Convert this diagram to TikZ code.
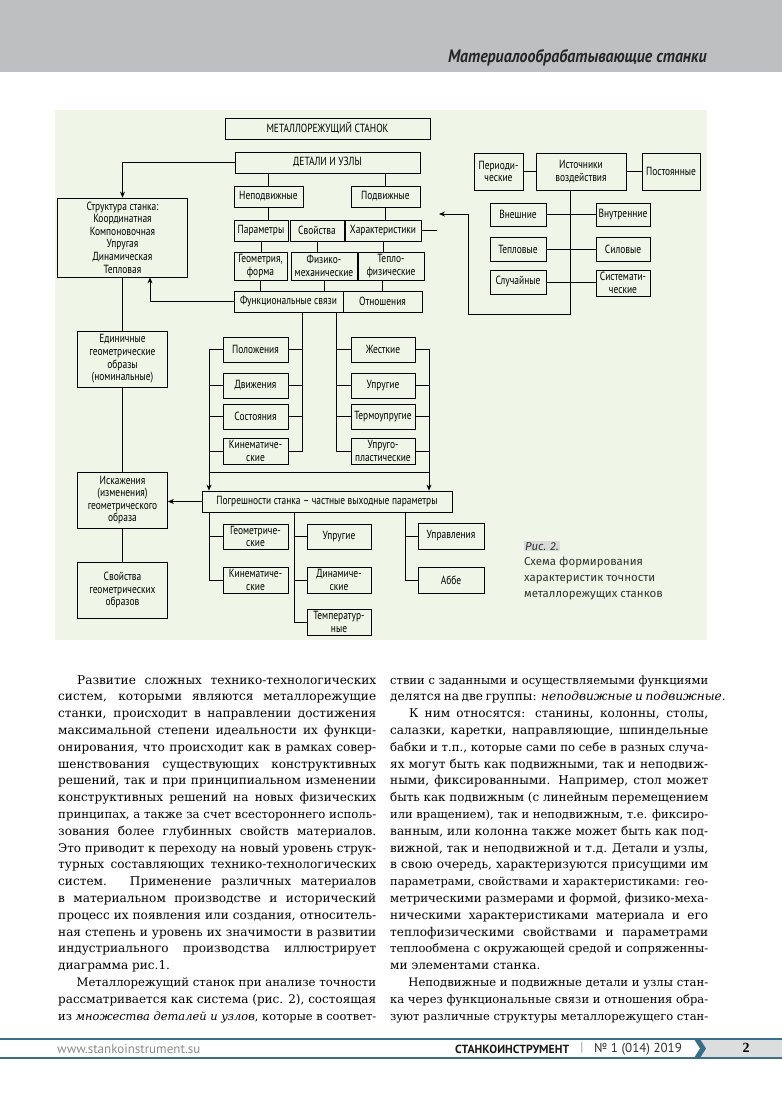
\documentclass[tikz,border=0pt]{standalone}
\usepackage{fontspec}
\usepackage{graphicx}
\setmainfont{DejaVu Serif}
\newfontfamily\diagfont[FakeStretch=0.8]{PT Sans}
\newfontfamily\headfont[FakeStretch=0.88]{PT Sans}
\newfontfamily\footfont{PT Sans}
\newfontfamily\capfont{Fira Sans}
\newfontfamily\numfont{Liberation Serif}
\usetikzlibrary{arrows.meta}
\definecolor{bandgrey}{HTML}{BEBFC1}
\definecolor{figbg}{HTML}{EFF6E7}
\definecolor{footline}{HTML}{3A6E85}
\definecolor{footgrey}{HTML}{DCDDDF}
\definecolor{capgrey}{HTML}{DADADA}
\definecolor{inkgrey}{HTML}{333333}
\newlength\colw
\setlength\colw{318pt}
\newcommand\jl[1]{\setbox0=\hbox{#1}%
  \ifdim\wd0>\colw\hbox{\resizebox{\colw}{!}{\box0}}\else\hbox to\colw{#1}\fi}
\newcommand\jlast[1]{\hbox to\colw{#1\hfil}}
\newcommand\ind{\hskip19pt}

\begin{document}
\begin{tikzpicture}[x=1pt,y=-1pt,>={Stealth[length=6pt,width=5pt]},
  box/.style={draw,line width=0.8pt,inner sep=0.5pt,align=center,
    font=\diagfont\fontsize{11.8}{12.6}\selectfont},
  link/.style={line width=0.8pt},
  bodytext/.style={anchor=base west,inner sep=0pt,text=black,
    font=\fontsize{12.1}{16.8}\selectfont}]
\useasboundingbox (0,0) rectangle (782,1096);
\fill[white] (0,0) rectangle (782,1096);
\fill[bandgrey] (0,0) rectangle (782,72);
\node[anchor=base east,inner sep=0pt,text=black!85,font=\headfont\bfseries\itshape\fontsize{18}{20}\selectfont] (runhead) at (707,62) {Материалообрабатывающие станки};

% figure
\fill[figbg] (55,110) rectangle (707,640);
\node[box,minimum width=205pt,minimum height=21pt] (machine) at (327.5,128.5) {МЕТАЛЛОРЕЖУЩИЙ СТАНОК};
\node[box,minimum width=185pt,minimum height=21pt] (parts) at (327.5,162.5) {ДЕТАЛИ И УЗЛЫ};
\node[box,minimum width=69pt,minimum height=21pt] (fixed) at (268.5,196.5) {Неподвижные};
\node[box,minimum width=69pt,minimum height=21pt] (moving) at (385.5,196.5) {Подвижные};
\node[box,minimum width=54pt,minimum height=21pt] (params) at (261,230.5) {Параметры};
\node[box,minimum width=54pt,minimum height=21pt] (props) at (317,230.5) {Свойства};
\node[box,minimum width=76pt,minimum height=21pt] (chars) at (383,230.5) {Характеристики};
\node[box,minimum width=53pt,minimum height=28pt] (geomform) at (260.5,266) {Геометрия,\\форма};
\node[box,minimum width=66pt,minimum height=28pt] (physmech) at (324,266) {Физико-\\механические};
\node[box,minimum width=66pt,minimum height=28pt] (thermphys) at (391,266) {Тепло-\\физические};
\node[box,minimum width=109pt,minimum height=21pt] (funclinks) at (288.5,301.5) {Функциональные связи};
\node[box,minimum width=79pt,minimum height=21pt] (relations) at (382.5,301.5) {Отношения};
\node[box,minimum width=130pt,minimum height=79pt] (structure) at (122.5,237.5) {Структура станка:\\Координатная\\Компоновочная\\Упругая\\Динамическая\\Тепловая};

\node[box,minimum width=49pt,minimum height=37pt] (periodic) at (498.5,171.5) {Периоди-\\ческие};
\node[box,minimum width=90pt,minimum height=37pt] (sources) at (581,171.5) {Источники\\воздействия};
\node[box,minimum width=58pt,minimum height=37pt] (constant) at (671,171.5) {Постоянные};
\node[box,minimum width=56pt,minimum height=23pt] (external) at (518,214.5) {Внешние};
\node[box,minimum width=54pt,minimum height=23pt] (internal) at (623,214.5) {Внутренние};
\node[box,minimum width=56pt,minimum height=24pt] (thermal) at (518,249) {Тепловые};
\node[box,minimum width=54pt,minimum height=24pt] (force) at (623,249) {Силовые};
\node[box,minimum width=56pt,minimum height=24pt] (random) at (518,282) {Случайные};
\node[box,minimum width=54pt,minimum height=26pt] (systematic) at (623,283) {Системати-\\ческие};

\node[box,minimum width=90pt,minimum height=56pt] (unitimg) at (122.5,359) {Единичные\\геометрические\\образы\\(номинальные)};
\node[box,minimum width=65pt,minimum height=25pt] (position) at (255.5,349.5) {Положения};
\node[box,minimum width=65pt,minimum height=25pt] (motion) at (255.5,385.5) {Движения};
\node[box,minimum width=65pt,minimum height=25pt] (state) at (255.5,416.5) {Состояния};
\node[box,minimum width=65pt,minimum height=26pt] (kinem) at (255.5,451) {Кинематиче-\\ские};
\node[box,minimum width=64pt,minimum height=25pt] (rigid) at (383,349.5) {Жесткие};
\node[box,minimum width=64pt,minimum height=25pt] (elastic) at (383,385.5) {Упругие};
\node[box,minimum width=64pt,minimum height=25pt] (thermoel) at (383,416.5) {Термоупругие};
\node[box,minimum width=64pt,minimum height=26pt] (elplast) at (383,451) {Упруго-\\пластические};

\node[box,minimum width=90pt,minimum height=56pt] (distort) at (122.5,500) {Искажения\\(изменения)\\геометрического\\образа};
\node[box,minimum width=250pt,minimum height=21pt] (errors) at (327,501.5) {Погрешности станка – частные выходные параметры};
\node[box,minimum width=90pt,minimum height=56pt] (imgprops) at (122.5,590) {Свойства\\геометрических\\образов};
\node[box,minimum width=65pt,minimum height=25pt] (geomout) at (255.5,536.5) {Геометриче-\\ские};
\node[box,minimum width=65pt,minimum height=26pt] (kinout) at (255.5,580) {Кинематиче-\\ские};
\node[box,minimum width=64pt,minimum height=25pt] (elout) at (339,536.5) {Упругие};
\node[box,minimum width=64pt,minimum height=26pt] (dynout) at (339,580) {Динамиче-\\ские};
\node[box,minimum width=64pt,minimum height=26pt] (tempout) at (339,622) {Температур-\\ные};
\node[box,minimum width=66pt,minimum height=26pt] (control) at (451,536) {Управления};
\node[box,minimum width=66pt,minimum height=26pt] (abbe) at (451,580) {Аббе};

\draw[link] (fixed.north) -- (fixed.north |- parts.south);
\draw[link] (moving.north) -- (moving.north |- parts.south);
\draw[link] (fixed.south) -- (fixed.south |- params.north);
\draw[link] (moving.south) -- (moving.south |- chars.north);
\draw[link] (params.south) -- (params.south |- geomform.north);
\draw[link] (props.south) -- (props.south |- physmech.north);
\draw[link] (chars.south) -- (chars.south |- thermphys.north);
\draw[link] (geomform.south) -- (geomform.south |- funclinks.north);
\draw[link] (physmech.south) -- (physmech.south |- funclinks.north);
\draw[link] (relations.north) -- (relations.north |- thermphys.south);
\draw[link,->] (parts.west) -| (structure.north);
\draw[link,->] (funclinks.west) -| ([xshift=27.5pt]structure.south);
\draw[link] (structure.south) -- (unitimg.north);

\coordinate (srcturn) at (570,314);
\coordinate (inarrow) at (439,214);
\coordinate (charsend) at (437,230.5);
\draw[link] (periodic.east) -- (sources.west);
\draw[link] (sources.east) -- (constant.west);
\draw[link,->] (sources.south -| srcturn) -- (srcturn) -| ([xshift=29pt]inarrow) -- (inarrow);
\draw[link] (external.east) -- (internal.west);
\draw[link] (thermal.east) -- (force.west);
\draw[link] (random.east) -- (random.east -| systematic.west);
\draw[link] (chars.east) -- (charsend);

\coordinate (ltrunk) at (302,451);
\coordinate (rtrunk) at (336,451);
\coordinate (lbus) at (209,472);
\coordinate (rbus) at (429,472);
\draw[link] (funclinks.south -| ltrunk) |- (kinem.east);
\draw[link] (position.east) -- (position.east -| ltrunk);
\draw[link] (motion.east) -- (motion.east -| ltrunk);
\draw[link] (state.east) -- (state.east -| ltrunk);
\draw[link] (funclinks.south -| rtrunk) |- (elplast.west);
\draw[link] (rigid.west) -- (rigid.west -| rtrunk);
\draw[link] (elastic.west) -- (elastic.west -| rtrunk);
\draw[link] (thermoel.west) -- (thermoel.west -| rtrunk);
\draw[link,->] (position.west) -| (errors.north -| lbus);
\draw[link] (motion.west) -- (motion.west -| lbus);
\draw[link] (state.west) -- (state.west -| lbus);
\draw[link] (kinem.west) -- (kinem.west -| lbus);
\draw[link,->] (rigid.east) -| (errors.north -| rbus);
\draw[link] (elastic.east) -- (elastic.east -| rbus);
\draw[link] (thermoel.east) -- (thermoel.east -| rbus);
\draw[link] (elplast.east) -- (elplast.east -| rbus);
\draw[link] (lbus) -- (rbus);

\draw[link] (unitimg.south) -- (distort.north);
\draw[link,->] (errors.west) -- (errors.west -| distort.east);
\draw[link] (distort.south) -- (imgprops.north);
\coordinate (mtrunk) at (294,622);
\coordinate (otrunk) at (405,580);
\draw[link] (errors.south -| lbus) |- (kinout.west);
\draw[link] (geomout.west) -- (geomout.west -| lbus);
\draw[link] (errors.south -| mtrunk) |- (tempout.west);
\draw[link] (elout.west) -- (elout.west -| mtrunk);
\draw[link] (dynout.west) -- (dynout.west -| mtrunk);
\draw[link] (errors.south -| otrunk) |- (abbe.west);
\draw[link] (control.west) -- (control.west -| otrunk);

\node[anchor=base west,fill=capgrey,inner sep=1pt,text=inkgrey,font=\capfont\itshape\fontsize{11.5}{16}\selectfont] (fignum) at (524,550) {Рис. 2.};
\node[anchor=north west,inner sep=0pt,align=left,text=inkgrey,font=\capfont\fontsize{11.5}{16}\selectfont] (figtitle) at (524,557) {Схема формирования\\характеристик точности\\металлорежущих станков};

% article text
\node[bodytext] (colleft) at (58,684) {\parbox[t]{\colw}{\fontsize{12.1}{16.8}\selectfont
\jl{\ind Развитие сложных технико-технологических}
\jl{систем, которыми являются металлорежущие}
\jl{станки, происходит в направлении достижения}
\jl{максимальной степени идеальности их функци-}
\jl{онирования, что происходит как в рамках совер-}
\jl{шенствования существующих конструктивных}
\jl{решений, так и при принципиальном изменении}
\jl{конструктивных решений на новых физических}
\jl{принципах, а также за счет всестороннего исполь-}
\jl{зования более глубинных свойств материалов.}
\jl{Это приводит к переходу на новый уровень струк-}
\jl{турных составляющих технико-технологических}
\jl{систем. Применение различных материалов}
\jl{в материальном производстве и исторический}
\jl{процесс их появления или создания, относитель-}
\jl{ная степень и уровень их значимости в развитии}
\jl{индустриального производства иллюстрирует}
\jlast{диаграмма рис.1.}
\jl{\ind Металлорежущий станок при анализе точности}
\jl{рассматривается как система (рис. 2), состоящая}
\jl{из \textit{множества деталей и узлов}, которые в соответ-}}};
\node[bodytext] (colright) at (390,684) {\parbox[t]{\colw}{\fontsize{12.1}{16.8}\selectfont
\jl{ствии с заданными и осуществляемыми функциями}
\jlast{делятся на две группы: \textit{неподвижные и подвижные}.}
\jl{\ind К ним относятся: станины, колонны, столы,}
\jl{салазки, каретки, направляющие, шпиндельные}
\jl{бабки и т.п., которые сами по себе в разных случа-}
\jl{ях могут быть как подвижными, так и неподвиж-}
\jl{ными, фиксированными. Например, стол может}
\jl{быть как подвижным (с линейным перемещением}
\jl{или вращением), так и неподвижным, т.е. фиксиро-}
\jl{ванным, или колонна также может быть как под-}
\jl{вижной, так и неподвижной и т.д. Детали и узлы,}
\jl{в свою очередь, характеризуются присущими им}
\jl{параметрами, свойствами и характеристиками: гео-}
\jl{метрическими размерами и формой, физико-меха-}
\jl{ническими характеристиками материала и его}
\jl{теплофизическими свойствами и параметрами}
\jl{теплообмена с окружающей средой и сопряженны-}
\jlast{ми элементами станка.}
\jl{\ind Неподвижные и подвижные детали и узлы стан-}
\jl{ка через функциональные связи и отношения обра-}
\jl{зуют различные структуры металлорежущего стан-}}};

% footer
\fill[footgrey] (700,1039) rectangle (782,1058);
\draw[footline,line width=1.2pt] (0,1039) -- (782,1039);
\draw[footline,line width=1.2pt] (0,1058) -- (782,1058);
\fill[footline] (694,1039) -- (700,1039) -- (706,1048.5) -- (700,1058) -- (694,1058) -- (700,1048.5) -- cycle;
\node[anchor=west,inner sep=0pt,text=black!45,font=\footfont\fontsize{13}{15}\selectfont] (website) at (57,1049) {www.stankoinstrument.su};
\node[anchor=west,inner sep=0pt,text=black!90,font=\footfont\bfseries\fontsize{11.8}{15}\selectfont] (journal) at (455,1049) {СТАНКОИНСТРУМЕНТ};
\node[anchor=center,inner sep=0pt,text=black!40,font=\footfont\fontsize{13}{15}\selectfont] (sep) at (582,1048) {|};
\node[anchor=west,inner sep=0pt,text=black!80,font=\footfont\fontsize{13}{15}\selectfont] (issue) at (594,1049) {№ 1 (014) 2019};
\node[anchor=center,inner sep=0pt,font=\numfont\bfseries\fontsize{14}{16}\selectfont] (pagenum) at (746,1048) {2};
\end{tikzpicture}
\end{document}
